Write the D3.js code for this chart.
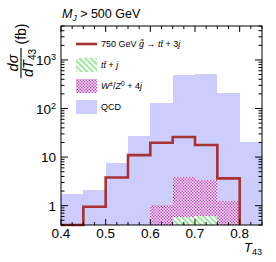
<!DOCTYPE html>
<html>
<head>
<meta charset="utf-8">
<script src="https://d3js.org/d3.v7.min.js"></script>
<style>
body { margin: 0; background: white; }
svg text { font-family: "Liberation Sans", Arial, Helvetica, sans-serif; }
</style>
</head>
<body>
<svg id="chart" width="276" height="262"></svg>
<script>
// bin edges of T43 and the four histograms (fb per unit T43)
var edges = [0.40, 0.45, 0.50, 0.55, 0.60, 0.65, 0.70, 0.75, 0.80, 0.85];
var qcd = [1.7, 2.1, 7.7, 27, 128, 490, 525, 205, 20];
var wz = [0, 0, 0, 0, 1.03, 3.95, 3.4, 1.26, 0];
var ttj = [0, 0, 0, 0, 0, 0.59, 0.61, 0, 0];
var signal = [0, 0.95, 3.8, 11, 19.7, 26, 17.7, 3.65]; // ends at 0.8
var xTicks = [0.4, 0.5, 0.6, 0.7, 0.8];
var yTicks = [1, 10, 100, 1000];

var svg = d3.select("#chart");
// note: "top" is taken by window.top, so plot box edges get a prefix
var pLeft = 61, pRight = 262, pTop = 26, pBottom = 225;

var x = d3.scaleLinear().domain([0.4, 0.85]).range([pLeft, pRight]);
var y = d3.scaleLog().domain([0.4, 5000]).range([pBottom, pTop]);
var yc = function(v) { return y(Math.max(v, 0.4)); }; // clamp to bottom

var defs = svg.append("defs");
var chk = defs.append("pattern").attr("id", "checker")
  .attr("width", 3).attr("height", 3).attr("patternUnits", "userSpaceOnUse");
chk.append("rect").attr("width", 3).attr("height", 3).attr("fill", "white");
chk.append("rect").attr("width", 1.5).attr("height", 1.5).attr("fill", "#c83cc8");
chk.append("rect").attr("x", 1.5).attr("y", 1.5).attr("width", 1.5).attr("height", 1.5).attr("fill", "#c83cc8");

var hat = defs.append("pattern").attr("id", "hatch")
  .attr("width", 4).attr("height", 4).attr("patternUnits", "userSpaceOnUse")
  .attr("patternTransform", "rotate(45)");
hat.append("rect").attr("width", 4).attr("height", 4).attr("fill", "white");
hat.append("line").attr("x1", 0).attr("x2", 4).attr("y1", 1).attr("y2", 1)
  .attr("stroke", "#5fd85f").attr("stroke-width", 1.2);

var clip = defs.append("clipPath").attr("id", "frame");
clip.append("rect").attr("x", pLeft).attr("y", pTop).attr("width", pRight - pLeft).attr("height", pBottom - pTop);

var plot = svg.append("g").attr("clip-path", "url(#frame)");

function bars(vals, fill) {
  plot.append("g").selectAll("rect")
    .data(vals.map(function(v, i) { return { v: v, i: i }; }).filter(function(d) { return d.v > 0; }))
    .enter().append("rect")
    .attr("x", function(d) { return x(edges[d.i]); })
    .attr("width", function(d) { return x(edges[d.i + 1]) - x(edges[d.i]); })
    .attr("y", function(d) { return y(d.v); })
    .attr("height", function(d) { return pBottom - y(d.v); })
    .attr("fill", fill)
    .attr("shape-rendering", "crispEdges");
}
bars(qcd, "#ccccff");
bars(wz, "url(#checker)");
bars(ttj, "url(#hatch)");

// signal step line
var pts = [[x(edges[0]), pBottom]];
signal.forEach(function(v, i) {
  pts.push([x(edges[i]), yc(v)]);
  pts.push([x(edges[i + 1]), yc(v)]);
});
pts.push([x(edges[signal.length]), pBottom]);
svg.append("path").attr("d", d3.line()(pts))
  .attr("fill", "none").attr("stroke", "#a83232").attr("stroke-width", 2.6);

// frame
svg.append("rect").attr("x", pLeft).attr("y", pTop).attr("width", pRight - pLeft).attr("height", pBottom - pTop)
  .attr("fill", "none").attr("stroke", "black").attr("stroke-width", 1);

// ticks (inward on all four sides)
var tk = svg.append("g").attr("stroke", "black").attr("stroke-width", 1);
d3.range(0.4, 0.851, 0.025).forEach(function(t) {
  var major = Math.abs(t * 10 - Math.round(t * 10)) < 1e-6;
  var len = major ? 6 : 3;
  tk.append("line").attr("x1", x(t)).attr("x2", x(t)).attr("y1", pBottom).attr("y2", pBottom - len);
  tk.append("line").attr("x1", x(t)).attr("x2", x(t)).attr("y1", pTop).attr("y2", pTop + len);
});
y.ticks().forEach(function(t) {
  var major = yTicks.indexOf(t) >= 0;
  var len = major ? 7 : 3.5;
  tk.append("line").attr("y1", y(t)).attr("y2", y(t)).attr("x1", pLeft).attr("x2", pLeft + len);
  tk.append("line").attr("y1", y(t)).attr("y2", y(t)).attr("x1", pRight).attr("x2", pRight - len);
});

// tick labels
svg.append("g").selectAll("text").data(xTicks).enter().append("text")
  .attr("x", function(d) { return x(d); }).attr("y", 238)
  .attr("text-anchor", "middle").attr("font-size", 13.5)
  .text(function(d) { return d3.format(".1f")(d); });

var yl = svg.append("g").selectAll("text").data(yTicks).enter().append("text")
  .attr("x", 56).attr("y", function(d) { return y(d) + 5; })
  .attr("text-anchor", "end").attr("font-size", 13.5);
yl.each(function(d) {
  var e = Math.round(Math.log10(d)), t = d3.select(this);
  if (e < 2) { t.text(d); return; }
  t.append("tspan").text("10");
  t.append("tspan").attr("font-size", 9).attr("dy", -5).text(e);
});

// axis titles
var xt = svg.append("text").attr("x", 262).attr("y", 252).attr("text-anchor", "end").attr("font-size", 13);
xt.append("tspan").attr("font-style", "italic").text("T");
xt.append("tspan").attr("font-size", 9).attr("dy", 3).text("43");

var ttl = svg.append("text").attr("x", 62).attr("y", 18).attr("font-size", 12.5);
ttl.append("tspan").attr("font-style", "italic").text("M");
ttl.append("tspan").attr("font-size", 8.5).attr("dy", 3).attr("font-style", "italic").text("J");
ttl.append("tspan").attr("dy", -3).text(" > 500 GeV");

var yg = svg.append("g").attr("transform", "rotate(-90)");
yg.append("text").attr("x", -63).attr("y", 18).attr("text-anchor", "middle")
  .attr("font-size", 14.5).attr("font-style", "italic").text("dσ");
yg.append("line").attr("x1", -78).attr("x2", -48).attr("y1", 21).attr("y2", 21)
  .attr("stroke", "black").attr("stroke-width", 1.1);
var den = yg.append("text").attr("x", -63).attr("y", 33).attr("text-anchor", "middle").attr("font-size", 14.5);
den.append("tspan").attr("font-style", "italic").text("dT");
den.append("tspan").attr("font-size", 10).attr("dy", 3).text("43");
yg.append("text").attr("x", -34).attr("y", 26).attr("text-anchor", "middle").attr("font-size", 14).text("(fb)");

// legend
var lg = svg.append("g");
lg.append("line").attr("x1", 76).attr("x2", 97).attr("y1", 44).attr("y2", 44)
  .attr("stroke", "#a83232").attr("stroke-width", 2.6);
lg.append("rect").attr("x", 76).attr("y", 58).attr("width", 21).attr("height", 14).attr("fill", "url(#hatch)");
lg.append("rect").attr("x", 76).attr("y", 79).attr("width", 21).attr("height", 14).attr("fill", "url(#checker)");
lg.append("rect").attr("x", 76).attr("y", 100).attr("width", 21).attr("height", 14).attr("fill", "#ccccff");

var l1 = lg.append("text").attr("x", 101).attr("y", 47).attr("font-size", 9);
l1.append("tspan").text("750 GeV ");
l1.append("tspan").attr("font-style", "italic").text("g\u0303 \u2192 tt\u0304");
l1.append("tspan").text(" + 3");
l1.append("tspan").attr("font-style", "italic").text("j");

var l2 = lg.append("text").attr("x", 101).attr("y", 68).attr("font-size", 9);
l2.append("tspan").attr("font-style", "italic").text("tt\u0304");
l2.append("tspan").text(" + ");
l2.append("tspan").attr("font-style", "italic").text("j");

var l3 = lg.append("text").attr("x", 101).attr("y", 89).attr("font-size", 9);
l3.append("tspan").attr("font-style", "italic").text("W");
l3.append("tspan").attr("font-size", 6.5).attr("dy", -3).text("\u00b1");
l3.append("tspan").attr("dy", 3).text("/");
l3.append("tspan").attr("font-style", "italic").text("Z");
l3.append("tspan").attr("font-size", 6.5).attr("dy", -3).text("0");
l3.append("tspan").attr("dy", 3).text(" + 4");
l3.append("tspan").attr("font-style", "italic").text("j");

lg.append("text").attr("x", 101).attr("y", 110).attr("font-size", 9).text("QCD");
</script>
</body>
</html>
